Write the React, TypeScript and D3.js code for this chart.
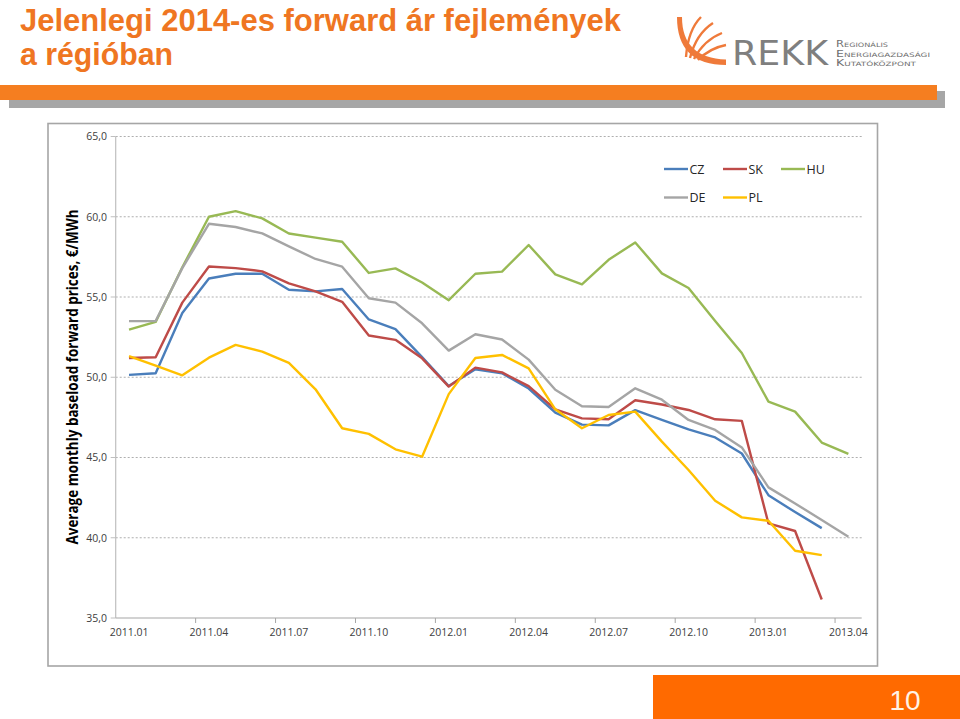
import React from "react";
import * as d3 from "d3";

const months = [
  "2011.01","2011.02","2011.03","2011.04","2011.05","2011.06","2011.07","2011.08","2011.09","2011.10","2011.11","2011.12",
  "2012.01","2012.02","2012.03","2012.04","2012.05","2012.06","2012.07","2012.08","2012.09","2012.10","2012.11","2012.12",
  "2013.01","2013.02","2013.03","2013.04",
];
const tickLabels = ["2011.01","2011.04","2011.07","2011.10","2012.01","2012.04","2012.07","2012.10","2013.01","2013.04"];
const yTicks = [35, 40, 45, 50, 55, 60, 65];

const CZ = [50.15,50.25,54.0,56.15,56.45,56.45,55.45,55.35,55.5,53.6,53.0,51.25,49.45,50.5,50.25,49.3,47.8,47.05,47.0,47.95,47.35,46.75,46.25,45.25,42.65,41.6,40.6];
const SK = [51.2,51.25,54.65,56.9,56.8,56.6,55.85,55.35,54.7,52.6,52.33,51.18,49.42,50.6,50.3,49.45,48.0,47.44,47.38,48.57,48.3,47.96,47.38,47.28,40.89,40.42,36.15];
const HU = [52.97,53.45,56.85,60.0,60.35,59.9,58.96,58.7,58.44,56.5,56.78,55.9,54.8,56.45,56.58,58.24,56.41,55.79,57.32,58.4,56.47,55.56,53.5,51.51,48.48,47.86,45.93,45.22];
const DE = [53.5,53.5,56.8,59.56,59.36,58.96,58.15,57.37,56.89,54.92,54.65,53.36,51.66,52.68,52.35,51.1,49.22,48.19,48.15,49.31,48.6,47.34,46.72,45.63,43.14,42.14,41.1,40.06];
const PL = [51.32,50.72,50.12,51.22,52.02,51.6,50.9,49.25,46.82,46.47,45.51,45.05,48.95,51.2,51.39,50.55,48.0,46.82,47.65,47.86,45.99,44.22,42.31,41.27,41.06,39.19,38.92];

const seriesNames = ["CZ", "SK", "HU", "DE", "PL"];
const seriesData = [CZ, SK, HU, DE, PL];
const seriesColors = ["#4A7EBB", "#BE4B48", "#98B954", "#A5A5A5", "#FFC000"];

export default function App() {
  const x = d3.scaleBand<string>().domain(months).range([115.7, 861.7]);
  const bw = x.bandwidth();
  const cx = (m: string) => (x(m) as number) + bw / 2;
  const y = d3.scaleLinear().domain([35, 65]).range([618, 136.5]);
  const line = d3
    .line<number>()
    .x((_, i) => cx(months[i]))
    .y((d) => y(d));

  const boundaries = months.map((m, i) => i).filter((i) => i > 0 && i % 3 === 0);
  const orange = "#EF7622";
  const legendPos = [
    { x: 664, y: 169 },
    { x: 723, y: 169 },
    { x: 781, y: 169 },
    { x: 664, y: 197.5 },
    { x: 723, y: 197.5 },
  ];
  const font = "'Open Sans', 'Noto Sans', sans-serif";

  return (
    <svg
      width={960}
      height={719}
      style={{ position: "absolute", left: 0, top: 0, display: "block", background: "#fff" }}
    >
      {/* Title */}
      <g fontFamily="'Liberation Sans', Arial, sans-serif" fontWeight="bold" fill={orange} fontSize={32}>
        <text x={20} y={31} textLength={601} lengthAdjust="spacingAndGlyphs">
          Jelenlegi 2014-es forward ár fejlemények
        </text>
        <text x={20} y={65} textLength={153} lengthAdjust="spacingAndGlyphs">
          a régióban
        </text>
      </g>

      {/* Logo */}
      <g>
        <path d="M677,17 L682,17 Q682,58 726,59.5 L726,65 Q677,65 677,17 Z" fill="#EF7A3A" />
        <g fill="none" stroke="#EF7A3A" strokeWidth={2.4}>
          <path d="M686,57 Q688,30 701,17" />
          <path d="M690,58 Q696,34 713,23" />
          <path d="M694,59 Q704,40 722,33" />
          <path d="M698,60 Q710,48 726,45" />
        </g>
        <text
          x={732}
          y={65}
          fontFamily="'DejaVu Sans', sans-serif"
          fontSize={33}
          fill="#7F7F7F"
          textLength={96}
          lengthAdjust="spacingAndGlyphs"
        >
          REKK
        </text>
        <g fontFamily="'DejaVu Sans', sans-serif" fontSize={8.5} fill="#6E6E6E" style={{ fontVariant: "small-caps" }}>
          <text x={836} y={47} textLength={52} lengthAdjust="spacingAndGlyphs">Regionális</text>
          <text x={836} y={56.5} textLength={94} lengthAdjust="spacingAndGlyphs">Energiagazdasági</text>
          <text x={836} y={66} textLength={80} lengthAdjust="spacingAndGlyphs">Kutatóközpont</text>
        </g>
      </g>

      {/* Header bar */}
      <rect x={9} y={91} width={936} height={17} fill="#A6A6A6" />
      <rect x={0} y={85} width={937} height={15} fill="#F57E20" />

      {/* Chart frame */}
      <rect x={48} y={123.5} width={829.5} height={542.5} fill="#fff" stroke="#A6A6A6" strokeWidth={1.6} />

      {/* Gridlines */}
      {yTicks.filter((t) => t > 35).map((t) => (
        <line
          key={"g" + t}
          x1={115.7}
          x2={861.7}
          y1={y(t)}
          y2={y(t)}
          stroke="#A6A6A6"
          strokeWidth={0.9}
          strokeDasharray="2,2"
        />
      ))}

      {/* Axes */}
      <line x1={115.7} x2={115.7} y1={y(65)} y2={y(35)} stroke="#BFBFBF" strokeWidth={1.2} />
      {yTicks.map((t) => (
        <line key={"yt" + t} x1={110.7} x2={115.7} y1={y(t)} y2={y(t)} stroke="#BFBFBF" strokeWidth={1} />
      ))}
      <line x1={115.7} x2={861.7} y1={y(35)} y2={y(35)} stroke="#A6A6A6" strokeWidth={1.2} />
      {boundaries.map((i) => (
        <line
          key={"xt" + i}
          x1={x(months[i]) as number}
          x2={x(months[i]) as number}
          y1={y(35)}
          y2={y(35) + 5}
          stroke="#A6A6A6"
          strokeWidth={1}
        />
      ))}

      {/* Y tick labels */}
      <g fontFamily={font} fontSize={10.5} fill="#404040" textAnchor="end">
        {yTicks.map((t) => (
          <text key={"yl" + t} x={107} y={y(t) + 3.8}>
            {d3.format(".1f")(t).replace(".", ",")}
          </text>
        ))}
      </g>

      {/* X tick labels */}
      <g fontFamily={font} fontSize={10.5} fill="#404040" textAnchor="middle">
        {tickLabels.map((l) => (
          <text key={"xl" + l} x={cx(l)} y={636}>
            {l}
          </text>
        ))}
      </g>

      {/* Y axis title */}
      <text
        transform="translate(78,377) rotate(-90)"
        textAnchor="middle"
        fontFamily={font}
        fontWeight="bold"
        fontSize={16}
        fill="#000"
        textLength={335}
        lengthAdjust="spacingAndGlyphs"
      >
        Average monthly baseload forward prices, €/MWh
      </text>

      {/* Lines */}
      {seriesData.map((d, k) => (
        <path
          key={seriesNames[k]}
          d={line(d) as string}
          fill="none"
          stroke={seriesColors[k]}
          strokeWidth={2.4}
          strokeLinejoin="round"
        />
      ))}

      {/* Legend */}
      <g fontFamily={font} fontSize={12.5} fill="#262626">
        {seriesNames.map((n, k) => (
          <g key={"lg" + n}>
            <line
              x1={legendPos[k].x}
              x2={legendPos[k].x + 24}
              y1={legendPos[k].y}
              y2={legendPos[k].y}
              stroke={seriesColors[k]}
              strokeWidth={2.4}
            />
            <text x={legendPos[k].x + 25.5} y={legendPos[k].y + 4.5}>
              {n}
            </text>
          </g>
        ))}
      </g>

      {/* Page number */}
      <rect x={653} y={675} width={307} height={44} fill="#FF6A00" />
      <text
        x={905}
        y={710}
        textAnchor="middle"
        fontFamily="'Liberation Sans', Arial, sans-serif"
        fontSize={28}
        fill="#FFF3E6"
      >
        10
      </text>
    </svg>
  );
}
